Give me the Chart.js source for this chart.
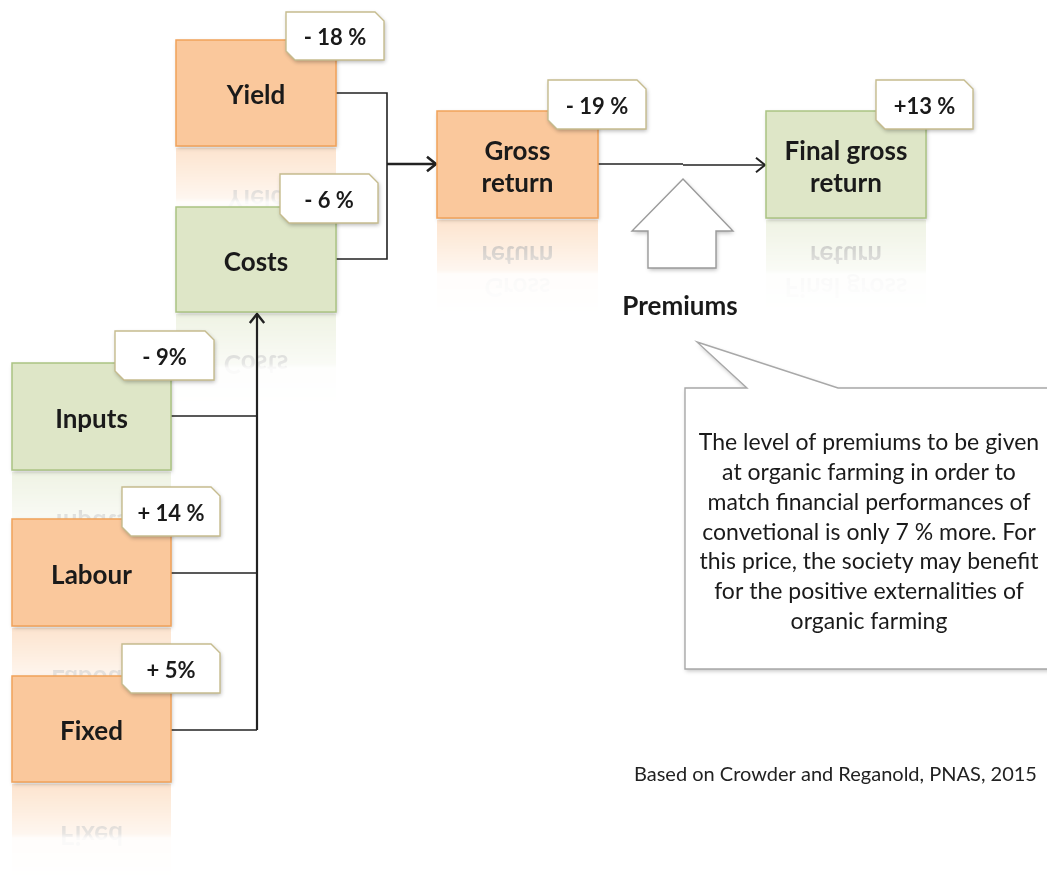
<!DOCTYPE html>
<html>
<head>
<meta charset="utf-8">
<script src="https://cdn.jsdelivr.net/npm/chart.js@4.4.1/dist/chart.umd.min.js"></script>
<style>
  html, body { margin: 0; padding: 0; background: #fff; }
  #wrap { width: 1047px; height: 879px; }
</style>
</head>
<body>
<div id="wrap"><canvas id="flowChart" width="1047" height="879"></canvas></div>
<script>
// data: the boxes, their change (organic vs conventional) and the tag text
const categories = ['Yield', 'Costs', 'Inputs', 'Labour', 'Fixed', 'Gross return', 'Final gross return'];
const changes = [-18, -6, -9, 14, 5, -19, 13];
const changeLabels = ['- 18 %', '- 6 %', '- 9%', '+ 14 %', '+ 5%', '- 19 %', '+13 %'];
const itemTypes = ['return', 'cost', 'cost', 'cost', 'cost', 'return', 'return'];
const boxLines = [['Yield'], ['Costs'], ['Inputs'], ['Labour'], ['Fixed'], ['Gross', 'return'], ['Final gross', 'return']];
const premiumLabel = 'Premiums';
const noteLines = [
    'The level of premiums to be given',
    'at organic farming in order to',
    'match financial performances of',
    'convetional is only 7 % more. For',
    'this price, the society may benefit',
    'for the positive externalities of',
    'organic farming'
];
const sourceText = 'Based on Crowder and Reganold, PNAS, 2015';

// layout in axis units (x: 0..1047, y: 0..879 top-down)
const boxPos = [
    [176, 40, 160, 106],
    [176, 207, 160, 105],
    [12, 363, 159, 107],
    [12, 519, 159, 107],
    [12, 676, 159, 106],
    [437, 111, 161, 107],
    [766, 111, 160, 107]
];
const tagPos = [
    [286, 12, 98, 48],
    [280, 174, 98, 49],
    [115, 331, 99, 49],
    [122, 487, 98, 49],
    [122, 644, 98, 49],
    [548, 80, 98, 49],
    [876, 80, 97, 49]
];

const COLORS = {
    badFill: '#fac89c', badLine: '#f1a25a',
    goodFill: '#dee6c7', goodLine: '#abc383',
    tagLine: '#c6bc8e', ink: '#1a1a1a', line: '#222'
};
const FONT = 'Lato, "Open Sans", sans-serif';

function isGood(i) {
    return itemTypes[i] === 'cost' ? changes[i] < 0 : changes[i] > 0;
}

const flowPlugin = {
    id: 'flow',
    beforeDatasetsDraw(chart) {
        const ctx = chart.ctx;
        const xs = chart.scales.x, ys = chart.scales.y;
        const px = v => xs.getPixelForValue(v);
        const py = v => ys.getPixelForValue(v);
        const W = v => px(v) - px(0);
        const H = v => py(v) - py(0);

        function drawLabel(c, i, x, y, w, h) {
            c.fillStyle = COLORS.ink;
            c.font = 'bold 26px ' + FONT;
            c.textAlign = 'center';
            c.textBaseline = 'middle';
            const lines = boxLines[i];
            const step = 32;
            const y0 = y + h / 2 + 3 - (lines.length - 1) * step / 2;
            lines.forEach((t, k) => c.fillText(t, x + w / 2, y0 + k * step));
        }

        // reflections under the boxes
        categories.forEach((name, i) => {
            const [bx, by, bw, bh] = boxPos[i];
            const x = px(bx), y = py(by), w = W(bw), h = H(bh);
            const rh = 100;
            const off = document.createElement('canvas');
            off.width = Math.ceil(w) + 4; off.height = rh;
            const o = off.getContext('2d');
            o.save();
            // mirror about the bottom edge
            o.setTransform(1, 0, 0, -1, -x, y + h + 2);
            o.fillStyle = isGood(i) ? COLORS.goodFill : COLORS.badFill;
            o.fillRect(x, y, w, h);
            o.globalAlpha = 0.6;
            drawLabel(o, i, x, y, w, h);
            o.restore();
            o.globalCompositeOperation = 'destination-in';
            const g = o.createLinearGradient(0, 0, 0, rh);
            g.addColorStop(0, 'rgba(0,0,0,0.5)');
            g.addColorStop(0.52, 'rgba(0,0,0,0.16)');
            g.addColorStop(0.56, 'rgba(0,0,0,0.04)');
            g.addColorStop(1, 'rgba(0,0,0,0)');
            o.fillStyle = g;
            o.fillRect(0, 0, off.width, rh);
            ctx.drawImage(off, x, y + h);
        });

        // connectors
        ctx.save();
        ctx.strokeStyle = COLORS.line;
        ctx.lineCap = 'butt';
        ctx.lineJoin = 'miter';
        function poly(pts, lw) {
            ctx.lineWidth = lw;
            ctx.beginPath();
            pts.forEach((p, k) => k ? ctx.lineTo(px(p[0]), py(p[1])) : ctx.moveTo(px(p[0]), py(p[1])));
            ctx.stroke();
        }
        function head(x, y, dir, lw) {
            const s = 9;
            ctx.lineWidth = lw;
            ctx.beginPath();
            const X = px(x), Y = py(y);
            if (dir === 'right') {
                ctx.moveTo(X - s, Y - s * 0.8); ctx.lineTo(X, Y); ctx.lineTo(X - s, Y + s * 0.8);
            } else {
                ctx.moveTo(X - s * 0.8, Y + s); ctx.lineTo(X, Y); ctx.lineTo(X + s * 0.8, Y + s);
            }
            ctx.stroke();
        }
        poly([[336, 93], [387, 93], [387, 259], [336, 259]], 1.6);
        poly([[387, 164], [435, 164]], 2.6);
        head(436, 164, 'right', 2.6);
        poly([[598, 164], [683, 164]], 1.6);
        poly([[683, 165], [764, 165]], 1.6);
        head(765, 165, 'right', 2);
        poly([[171, 416], [257, 416]], 1.6);
        poly([[171, 573], [257, 573]], 1.6);
        poly([[171, 730], [257, 730]], 1.6);
        poly([[257, 730], [257, 315]], 2.2);
        head(257, 314, 'up', 2.4);
        ctx.restore();

        // premium block arrow
        ctx.save();
        ctx.shadowColor = 'rgba(0,0,0,0.28)';
        ctx.shadowBlur = 4; ctx.shadowOffsetX = 1; ctx.shadowOffsetY = 2;
        ctx.beginPath();
        [[683, 179], [733, 231], [716, 231], [716, 268], [648, 268], [648, 231], [632, 231]]
            .forEach((p, k) => k ? ctx.lineTo(px(p[0]), py(p[1])) : ctx.moveTo(px(p[0]), py(p[1])));
        ctx.closePath();
        ctx.fillStyle = '#fff';
        ctx.fill();
        ctx.shadowColor = 'transparent';
        ctx.strokeStyle = '#9a9a9a';
        ctx.lineWidth = 1.4;
        ctx.stroke();
        ctx.restore();

        ctx.fillStyle = COLORS.ink;
        ctx.font = 'bold 26px ' + FONT;
        ctx.textAlign = 'center';
        ctx.textBaseline = 'middle';
        ctx.fillText(premiumLabel, px(680), py(307));

        // boxes
        categories.forEach((name, i) => {
            const [bx, by, bw, bh] = boxPos[i];
            const x = px(bx), y = py(by), w = W(bw), h = H(bh);
            ctx.save();
            ctx.shadowColor = 'rgba(0,0,0,0.25)';
            ctx.shadowBlur = 4; ctx.shadowOffsetX = 1; ctx.shadowOffsetY = 2;
            ctx.fillStyle = isGood(i) ? COLORS.goodFill : COLORS.badFill;
            ctx.fillRect(x, y, w, h);
            ctx.shadowColor = 'transparent';
            ctx.strokeStyle = isGood(i) ? COLORS.goodLine : COLORS.badLine;
            ctx.lineWidth = 1.5;
            ctx.strokeRect(x, y, w, h);
            ctx.restore();
            drawLabel(ctx, i, x, y, w, h);
        });

        // change tags
        categories.forEach((name, i) => {
            const [tx, ty, tw, th] = tagPos[i];
            const x = px(tx), y = py(ty), w = W(tw), h = H(th);
            const c = 9;
            ctx.save();
            ctx.beginPath();
            ctx.moveTo(x, y);
            ctx.lineTo(x + w - c, y);
            ctx.lineTo(x + w, y + c);
            ctx.lineTo(x + w, y + h);
            ctx.lineTo(x + c, y + h);
            ctx.lineTo(x, y + h - c);
            ctx.closePath();
            ctx.shadowColor = 'rgba(0,0,0,0.3)';
            ctx.shadowBlur = 4; ctx.shadowOffsetX = 1; ctx.shadowOffsetY = 2;
            ctx.fillStyle = '#fff';
            ctx.fill();
            ctx.shadowColor = 'transparent';
            ctx.strokeStyle = COLORS.tagLine;
            ctx.lineWidth = 1.4;
            ctx.stroke();
            ctx.restore();
            ctx.fillStyle = COLORS.ink;
            ctx.font = 'bold 22px ' + FONT;
            ctx.textAlign = 'center';
            ctx.textBaseline = 'middle';
            ctx.fillText(changeLabels[i], x + w / 2, y + h / 2 + 2);
        });

        // callout
        ctx.save();
        ctx.beginPath();
        [[685, 388], [747, 388], [697, 342], [838, 388], [1060, 388], [1060, 669], [685, 669]]
            .forEach((p, k) => k ? ctx.lineTo(px(p[0]), py(p[1])) : ctx.moveTo(px(p[0]), py(p[1])));
        ctx.closePath();
        ctx.shadowColor = 'rgba(0,0,0,0.25)';
        ctx.shadowBlur = 4; ctx.shadowOffsetX = 1; ctx.shadowOffsetY = 2;
        ctx.fillStyle = '#fff';
        ctx.fill();
        ctx.shadowColor = 'transparent';
        ctx.strokeStyle = '#a8a8a8';
        ctx.lineWidth = 1.4;
        ctx.stroke();
        ctx.restore();

        ctx.fillStyle = COLORS.ink;
        ctx.font = '23px ' + FONT;
        ctx.textAlign = 'center';
        ctx.textBaseline = 'middle';
        noteLines.forEach((t, k) => ctx.fillText(t, px(869), py(443 + k * 29.7)));

        ctx.fillStyle = '#222';
        ctx.font = '20px ' + FONT;
        ctx.textAlign = 'left';
        ctx.fillText(sourceText, px(634), py(775));
    }
};

const flowChart = new Chart(document.getElementById('flowChart').getContext('2d'), {
    type: 'scatter',
    data: {
        datasets: [{
            label: 'boxes',
            data: categories.map((c, i) => ({ x: boxPos[i][0] + boxPos[i][2] / 2, y: boxPos[i][1] + boxPos[i][3] / 2 })),
            pointRadius: 0
        }]
    },
    options: {
        responsive: false,
        animation: false,
        devicePixelRatio: 1,
        layout: { padding: 0 },
        plugins: { legend: { display: false }, tooltip: { enabled: false } },
        scales: {
            x: { type: 'linear', min: 0, max: 1047, display: false },
            y: { type: 'linear', min: 0, max: 879, reverse: true, display: false }
        }
    },
    plugins: [flowPlugin]
});
</script>
</body>
</html>
